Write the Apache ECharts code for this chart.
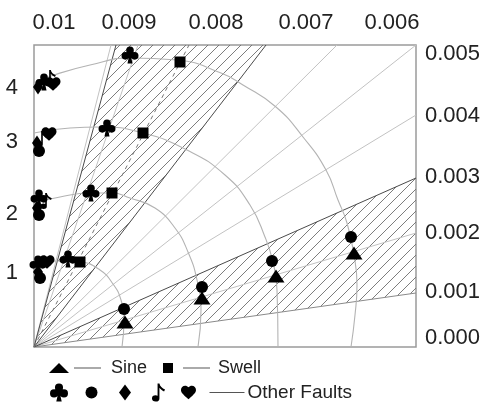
<!DOCTYPE html>
<html><head><meta charset="utf-8">
<script src="https://cdn.jsdelivr.net/npm/echarts@6/dist/echarts.min.js"></script>
<style>html,body{margin:0;padding:0;background:#fff}#c{width:486px;height:405px}</style>
</head><body><div id="c"></div>
<script>
// ---- tick labels (positions, in plot units) ----
const topTickValues = [20, 95, 182, 272, 358];
const topTickLabels = ['0.01', '0.009', '0.008', '0.007', '0.006'];
const rightTickValues = [9, 55, 114, 170, 231, 293];
const rightTickLabels = ['0.000', '0.001', '0.002', '0.003', '0.004', '0.005'];
const leftTickValues = [74, 133, 205, 259];
const leftTickLabels = ['1', '2', '3', '4'];

// ---- marker series ----
const sinePts = [[91, 25], [168, 49], [242, 71], [320, 94]];
const swellPts = [[46, 85], [78, 154], [109, 214], [146, 285]];
const faultClubPts = [[34, 88], [57, 154], [73, 219], [96, 292], [10, 265], [5, 149], [4, 83]];
const faultCirclePts = [[90, 38], [168, 60], [238, 86], [317, 110], [5, 196], [5, 132], [6, 69]];
const faultDiamondPts = [[4, 260], [3, 204], [3, 139], [4, 75]];
const faultNotePts = [[16, 269], [8, 208], [12, 146]];
const faultHeartPts = [[19, 263], [15, 213], [13, 85]];

// ---- radial guide lines (end points on the frame) ----
const radialLight = [[77, 302], [104, 302], [303, 302], [382, 302], [382, 232], [382, 114]];
const radialDark = [[82, 302], [232, 302], [382, 169]];
const radialMid = [[382, 54]];
const swellLine = [[155, 302]];

// ---- hatched sectors ----
const hatchUpper = [[0, 0], [82, 302], [232, 302]];
const hatchLower = [[0, 0], [382, 169], [382, 54]];

// ---- arcs ----
const arc1 = [[0, 84], [24, 86], [46, 85], [66, 77], [79, 63], [87, 47], [90, 27], [88, 0]];
const arc2 = [[0, 144], [26, 150], [56, 154], [78, 154], [96, 149], [121, 139], [141, 119], [154, 95], [163, 67], [167, 37], [164, 0]];
const arc3 = [[0, 214], [36, 219], [66, 220], [109, 214], [153, 197], [191, 172], [216, 142], [231, 110], [239, 85], [243, 57], [244, 0]];
const arc4 = [[0, 264], [20, 272], [56, 282], [96, 289], [143, 287], [187, 274], [209, 262], [242, 240], [269, 210], [292, 177], [304, 147], [313, 124], [320, 92], [323, 62], [321, 32], [317, 0]];

const FONT = '"Liberation Sans", Arial, sans-serif';

const clubPath = 'path://M7.5 6.5a4.5 4.5 0 1 0 9 0a4.5 4.5 0 1 0 -9 0Z M2 13a4.5 4.5 0 1 0 9 0a4.5 4.5 0 1 0 -9 0Z M13 13a4.5 4.5 0 1 0 9 0a4.5 4.5 0 1 0 -9 0Z M8 9.5L12 16L16 9.5Z M11 13L9 22H15L13 13Z';
const heartBody = 'M12 21L10.5 19.6C5.4 15 2 12 2 8.5C2 5.4 4.4 3 7.5 3C9.2 3 10.9 3.8 12 5.1C13.1 3.8 14.8 3 16.5 3C19.6 3 22 5.4 22 8.5C22 12 18.6 15 13.5 19.6Z';
const heartPath = 'path://' + heartBody;
const notePath = 'path://M10 2H12C12.5 5 15 7 18 8.5L17 10.5C15 9.5 13 8 12 6.5V18A4 3.3 0 1 1 10 15.2Z';

// hatch pattern
const hatchCanvas = document.createElement('canvas');
hatchCanvas.width = 11; hatchCanvas.height = 11;
(function () {
  const g = hatchCanvas.getContext('2d');
  g.strokeStyle = '#6e6e6e'; g.lineWidth = 0.9;
  g.beginPath();
  g.moveTo(-1, 12); g.lineTo(12, -1);
  g.moveTo(-1, 1); g.lineTo(1, -1);
  g.moveTo(10, 12); g.lineTo(12, 10);
  g.stroke();
})();

const hatchSectors = [hatchUpper, hatchLower];

const chart = echarts.init(document.getElementById('c'), null, {renderer: 'canvas'});

function radialSeries(name, ends, color, width, type) {
  return {
    type: 'lines', name: name, coordinateSystem: 'cartesian2d', silent: true, z: 2,
    data: ends.map(e => ({coords: [[0, 0], e]})),
    lineStyle: {color: color, width: width, opacity: 1, type: type || 'solid'}
  };
}
function arcSeries(name, pts) {
  return {
    type: 'line', name: name, data: pts, smooth: 0.5, symbol: 'none', silent: true, z: 2,
    lineStyle: {color: '#b3b3b3', width: 1.1}
  };
}
function scatter(name, pts, symbol, size) {
  return {
    type: 'scatter', name: name, data: pts, symbol: symbol, symbolSize: size, symbolKeepAspect: true,
    itemStyle: {color: '#000', opacity: 1}, z: 5, silent: true
  };
}

const rich = {
  l: {width: 27, height: 1, backgroundColor: '#555', verticalAlign: 'middle'},
  l2: {width: 35, height: 1, backgroundColor: '#555', verticalAlign: 'middle'},
  s6: {width: 6}, s8: {width: 8}, s10: {width: 10}, s3: {width: 3},
  t: {fontSize: 18, fontFamily: FONT, color: '#222'},
  t2: {fontSize: 19, fontFamily: FONT, color: '#222'}
};

const option = {
  animation: false,
  backgroundColor: '#fff',
  grid: {left: 34, top: 45, width: 382, height: 302, show: true, borderColor: '#9a9a9a', borderWidth: 1.5, containLabel: false, outerBoundsMode: 'none'},
  xAxis: [
    {type: 'value', min: 0, max: 382, position: 'bottom', show: true,
     axisLine: {show: false}, axisTick: {show: false}, axisLabel: {show: false}, splitLine: {show: false}},
    {type: 'value', min: 0, max: 382, position: 'top', show: true,
     axisLine: {show: false}, axisTick: {show: false}, splitLine: {show: false},
     axisLabel: {show: true, customValues: topTickValues, margin: 11, fontSize: 22, fontFamily: FONT, color: '#222',
       formatter: v => topTickLabels[topTickValues.indexOf(v)] || ''}}
  ],
  yAxis: [
    {type: 'value', min: 0, max: 302, position: 'left',
     axisLine: {show: false}, axisTick: {show: false}, splitLine: {show: false},
     axisLabel: {show: true, customValues: leftTickValues, margin: 16, fontSize: 22, fontFamily: FONT, color: '#222',
       formatter: v => leftTickLabels[leftTickValues.indexOf(v)] || ''}},
    {type: 'value', min: 0, max: 302, position: 'right',
     axisLine: {show: false}, axisTick: {show: false}, splitLine: {show: false},
     axisLabel: {show: true, customValues: rightTickValues, margin: 9, fontSize: 22, fontFamily: FONT, color: '#222',
       formatter: v => rightTickLabels[rightTickValues.indexOf(v)] || ''}}
  ],
  legend: [
    {left: 44, top: 354, orient: 'horizontal', itemWidth: 20, itemHeight: 18, itemGap: 11, selectedMode: false,
     data: [
       {name: 'Sine', icon: 'path://M0 0M20 18M10 4L20 14H0Z', itemStyle: {color: '#000'}},
       {name: 'Swell', icon: 'path://M0 0M20 18M5 4H15V14H5Z', itemStyle: {color: '#000'}}
     ],
     formatter: n => n === 'Sine' ? '{l| }{s10| }{t|Sine}' : '{l| }{s8| }{t|Swell}',
     textStyle: {fontSize: 18, fontFamily: FONT, color: '#222', rich: rich}},
    {left: 44, top: 378, orient: 'horizontal', itemWidth: 20, itemHeight: 18, itemGap: 13.5, selectedMode: false,
     data: [
       {name: 'OF club', icon: clubPath, itemStyle: {color: '#000'}},
       {name: 'OF circle', icon: 'path://M0 0M20 18M4 9a6 6 0 1 0 12 0a6 6 0 1 0 -12 0Z', itemStyle: {color: '#000'}},
       {name: 'OF diamond', icon: 'path://M0 0M20 18M10 1L16 9L10 17L4 9Z', itemStyle: {color: '#000'}},
       {name: 'OF note', icon: notePath, itemStyle: {color: '#000'}},
       {name: 'Other Faults', icon: 'path://M-1.3 0M25.3 24' + heartBody, itemStyle: {color: '#000'}}
     ],
     formatter: n => n === 'Other Faults' ? '{s6| }{l2| }{s3| }{t2|Other Faults}' : '',
     textStyle: {fontSize: 18, fontFamily: FONT, color: '#222', rich: rich}}
  ],
  series: [
    {
      type: 'custom', name: 'hatch', silent: true, z: 1, clip: false,
      data: hatchSectors.map((s, i) => [i]),
      renderItem: function (params, api) {
        const poly = hatchSectors[params.dataIndex];
        return {type: 'polygon', shape: {points: poly.map(p => api.coord(p))},
                style: {fill: {image: hatchCanvas, repeat: 'repeat'}, stroke: null}};
      }
    },
    radialSeries('radial light', radialLight, '#c2c2c2', 1),
    radialSeries('radial mid', radialMid, '#8a8a8a', 1),
    radialSeries('radial dark', radialDark, '#4a4a4a', 1),
    radialSeries('swell line', swellLine, '#777', 1, [4, 4]),
    arcSeries('arc1', arc1), arcSeries('arc2', arc2), arcSeries('arc3', arc3), arcSeries('arc4', arc4),
    scatter('Sine', sinePts, 'triangle', [17, 13]),
    scatter('Swell', swellPts, 'rect', 11),
    scatter('OF club', faultClubPts, clubPath, 17),
    scatter('OF circle', faultCirclePts, 'circle', 12),
    scatter('OF diamond', faultDiamondPts, 'diamond', [10, 15]),
    scatter('OF note', faultNotePts, notePath, 16),
    scatter('Other Faults', faultHeartPts, heartPath, 15)
  ]
};
chart.setOption(option);
</script>
</body></html>
